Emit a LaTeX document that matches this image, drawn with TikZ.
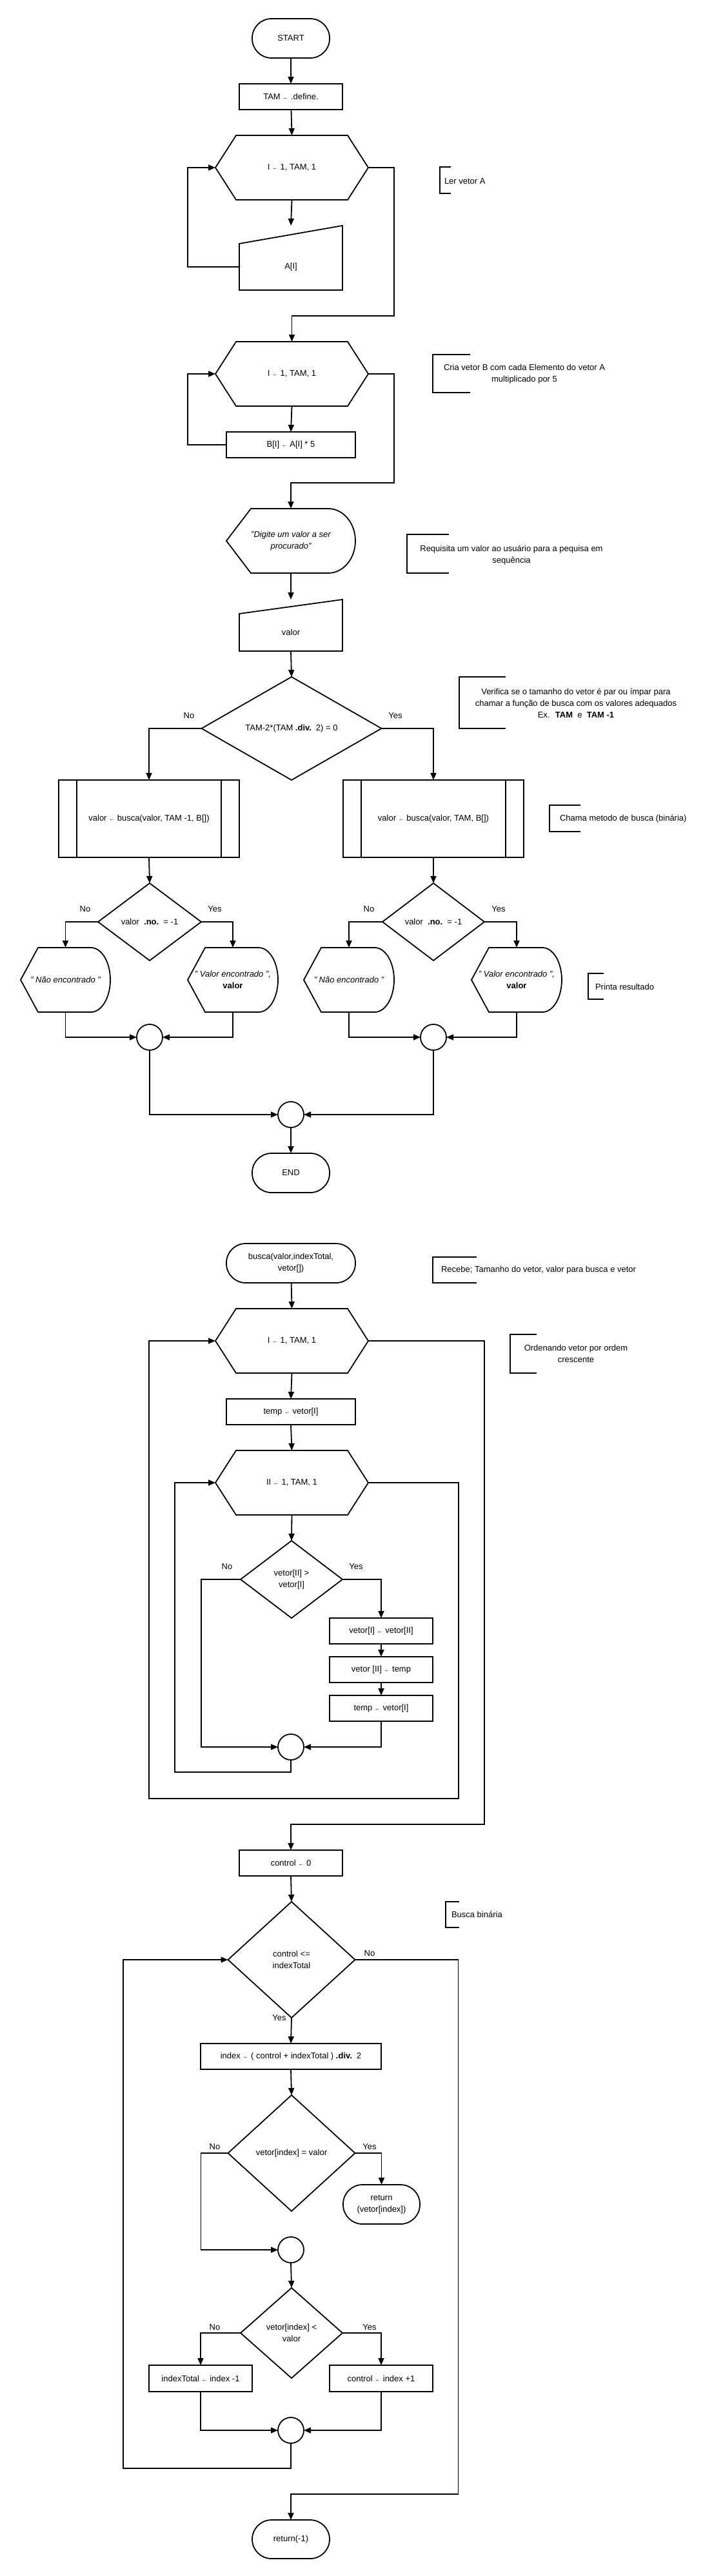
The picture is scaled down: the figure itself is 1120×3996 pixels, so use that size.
\documentclass[tikz,border=0pt]{standalone}
\usepackage{fontspec}
\setmainfont{Liberation Sans}
\usetikzlibrary{shapes.geometric,arrows.meta,calc}
\tikzset{
 every node/.style={font=\fontsize{13}{18}\selectfont, outer sep=0pt},
 shp/.style={line width=1.8pt, line join=miter},
 arr/.style={line width=1.8pt, -{Triangle[length=11pt,width=9pt]}},
 box/.style={rectangle, draw, line width=1.8pt, minimum width=160pt, minimum height=40pt, inner sep=2pt, align=center},
 term/.style={rectangle, draw, line width=1.8pt, rounded corners=30pt, minimum width=120pt, minimum height=61pt, inner sep=2pt, align=center},
 dec/.style={diamond, draw, line width=1.8pt, inner sep=0pt, align=center},
 conn/.style={circle, draw, line width=1.8pt, minimum size=40pt, inner sep=0pt},
 ghost/.style={rectangle, draw=none, inner sep=0pt, align=center},
 lab/.style={inner sep=0pt},
 note/.style={inner sep=0pt, align=center},
 ital/.style={font=\fontsize{13}{18}\selectfont\itshape},
}
\newcommand\mkhex[1]{\draw[shp] ([xshift=32pt]#1.north west) -- ([xshift=-32pt]#1.north east) -- (#1.east) -- ([xshift=-32pt]#1.south east) -- ([xshift=32pt]#1.south west) -- (#1.west) -- cycle;}
\newcommand\mkmanual[2]{\draw[shp] (#1.south west) -- (#1.north west) -- ([yshift=#2]#1.north east) -- (#1.south east) -- cycle;}
\newcommand\mkdisplay[3]{\draw[shp] (#1.west) -- ([xshift=#2]#1.north west) -- ([xshift=-#3]#1.north east) arc[start angle=90,end angle=-90,x radius=#3,y radius=50pt] -- ([xshift=#2]#1.south west) -- cycle;}
\newcommand\mksubr[1]{\draw[shp] ([xshift=28pt]#1.north west) -- ([xshift=28pt]#1.south west) ([xshift=-28pt]#1.north east) -- ([xshift=-28pt]#1.south east);}
\newcommand\la{{\fontsize{9}{9}\selectfont ←}}
\begin{document}
\begin{tikzpicture}[x=1pt,y=-1pt]
\fill[white] (0,0) rectangle (1120,3996);
\useasboundingbox (0,0) rectangle (1120,3996);

% ---------- main program ----------
\node[term] (start) at (451,59.5) {START};
\node[box] (tam) at (451,150) {TAM \la{} .define.};
\node[ghost, minimum width=237pt, minimum height=100pt] (hexA) at (452.5,260) {I \la{} 1, TAM, 1};
\mkhex{hexA}
\node[ghost, minimum width=160pt, minimum height=72pt] (inA) at (451,414) {A[I]};
\mkmanual{inA}{28pt}
\node[ghost, minimum width=237pt, minimum height=100pt] (hexB) at (452.5,580) {I \la{} 1, TAM, 1};
\mkhex{hexB}
\node[box, minimum width=200pt] (bset) at (451,690) {B[I] \la{} A[I] * 5};
\node[ghost, ital, minimum width=200pt, minimum height=100pt] (disp1) at (451,839) {"Digite um valor a ser\\procurado"};
\mkdisplay{disp1}{38pt}{42pt}
\node[ghost, minimum width=160pt, minimum height=58pt] (inV) at (451,981) {valor};
\mkmanual{inV}{22pt}
\node[dec, minimum width=279pt, minimum height=160pt] (dec1) at (452,1130) {TAM-2*(TAM \textbf{.div.}\, 2) = 0};
\node[box, minimum width=280pt, minimum height=120pt] (subL) at (231,1270) {valor \la{} busca(valor, TAM -1, B[])};
\mksubr{subL}
\node[box, minimum width=280pt, minimum height=120pt] (subR) at (672,1270) {valor \la{} busca(valor, TAM, B[])};
\mksubr{subR}
\node[dec, minimum width=160pt, minimum height=120pt] (decL) at (232,1430) {valor \ \textbf{.no.}\ \ = -1};
\node[dec, minimum width=158pt, minimum height=120pt] (decR) at (672,1430) {valor \ \textbf{.no.}\ \ = -1};
\node[ghost, ital, minimum width=139pt, minimum height=100pt] (dL1) at (101.5,1520) {" Não encontrado "};
\mkdisplay{dL1}{27pt}{30pt}
\node[ghost, minimum width=140pt, minimum height=100pt] (dL2) at (361,1520) {{\itshape " Valor encontrado ",}\\\textbf{valor}};
\mkdisplay{dL2}{27pt}{30pt}
\node[ghost, ital, minimum width=140pt, minimum height=100pt] (dR1) at (541,1520) {" Não encontrado "};
\mkdisplay{dR1}{27pt}{30pt}
\node[ghost, minimum width=140pt, minimum height=100pt] (dR2) at (801,1520) {{\itshape " Valor encontrado ",}\\\textbf{valor}};
\mkdisplay{dR2}{27pt}{30pt}
\node[conn] (cL) at (232,1609) {};
\node[conn] (cR) at (672,1609) {};
\node[conn] (cM) at (451,1729) {};
\node[term] (endn) at (451,1819.5) {END};

\node[lab] (n1) at (293,1110) {No};
\node[lab] (y1) at (613,1110) {Yes};
\node[lab] (n2) at (132,1410) {No};
\node[lab] (y2) at (333,1410) {Yes};
\node[lab] (n3) at (572,1410) {No};
\node[lab] (y3) at (773,1410) {Yes};

\draw[arr] (start) -- (tam);
\draw[arr] (tam) -- (hexA.north);
\draw[arr] (hexA.south) -- ([yshift=28pt]inA.north);
\draw[arr] (inA.west) -- ++(-80,0) |- (hexA.west);
\draw[arr] (hexA.east) -- ++(40,0) |- ([yshift=40pt]hexB.north) -- (hexB.north);
\draw[arr] (hexB.south) -- (bset.north);
\draw[arr] (bset.west) -- ++(-60,0) |- (hexB.west);
\draw[arr] (hexB.east) -- ++(40,0) |- ([yshift=40pt]disp1.north) -- (disp1.north);
\draw[arr] (disp1.south) -- ([yshift=22pt]inV.north);
\draw[arr] (inV.south) -- (dec1.north);
\draw[arr] (dec1.west) -| (subL.north);
\draw[arr] (dec1.east) -| (subR.north);
\draw[arr] (subL.south) -- (decL.north);
\draw[arr] (subR.south) -- (decR.north);
\draw[arr] (decL.west) -| (dL1.north);
\draw[arr] (decL.east) -| (dL2.north);
\draw[arr] (decR.west) -| (dR1.north);
\draw[arr] (decR.east) -| (dR2.north);
\draw[arr] (dL1.south) |- (cL.west);
\draw[arr] (dL2.south) |- (cL.east);
\draw[arr] (dR1.south) |- (cR.west);
\draw[arr] (dR2.south) |- (cR.east);
\draw[arr] (cL.south) |- (cM.west);
\draw[arr] (cR.south) |- (cM.east);
\draw[arr] (cM) -- (endn);

% ---------- function busca ----------
\node[term, minimum width=200pt] (busca) at (451,1959.5) {busca(valor,indexTotal,\\vetor[])};
\node[ghost, minimum width=237pt, minimum height=100pt] (hexC) at (452.5,2080) {I \la{} 1, TAM, 1};
\mkhex{hexC}
\node[box, minimum width=200pt] (tmp) at (451,2190) {temp \la{} vetor[I]};
\node[ghost, minimum width=237pt, minimum height=100pt] (hexD) at (452.5,2300) {II \la{} 1, TAM, 1};
\mkhex{hexD}
\node[dec, minimum width=158pt, minimum height=120pt] (dec2) at (452,2450) {vetor[II] >\\vetor[I]};
\node[box] (b1) at (591,2530) {vetor[I] \la{} vetor[II]};
\node[box] (b2) at (591,2590) {vetor [II] \la{} temp};
\node[box] (b3) at (591,2650) {temp \la{} vetor[I]};
\node[conn] (c2) at (451,2710) {};
\node[box] (ctrl) at (451,2890) {control \la{} 0};
\node[dec, minimum width=197pt, minimum height=180pt] (dec3) at (452,3040) {control <=\\indexTotal};
\node[box, minimum width=280pt] (idx) at (451,3190) {index \la{} ( control + indexTotal ) \textbf{.div.}\, 2};
\node[dec, minimum width=197pt, minimum height=180pt] (dec4) at (452,3340) {vetor[index] = valor};
\node[term, minimum width=119pt] (ret1) at (591.5,3419.5) {return\\(vetor[index])};
\node[conn] (c3) at (451,3490) {};
\node[dec, minimum width=158pt, minimum height=140pt] (dec5) at (452,3619) {vetor[index] <\\valor};
\node[box, minimum height=41pt] (bL) at (311,3689.5) {indexTotal \la{} index -1};
\node[box, minimum height=41pt] (bR) at (591,3689.5) {control \la{} index +1};
\node[conn] (c4) at (451,3770) {};
\node[term, minimum height=60pt] (ret2) at (451,3939) {return(-1)};

\node[lab] (n4) at (352,2430) {No};
\node[lab] (y4) at (552,2430) {Yes};
\node[lab] (n5) at (573,3030) {No};
\node[lab] (y5) at (433,3130) {Yes};
\node[lab] (n6) at (333,3330) {No};
\node[lab] (y6) at (573,3330) {Yes};
\node[lab] (n7) at (333,3610) {No};
\node[lab] (y7) at (573,3610) {Yes};

\draw[arr] (busca) -- (hexC.north);
\draw[arr] (hexC.south) -- (tmp.north);
\draw[arr] (tmp.south) -- (hexD.north);
\draw[arr] (hexD.south) -- (dec2.north);
\draw[arr] (dec2.west) -- ++(-61,0) |- (c2.west);
\draw[arr] (dec2.east) -| (b1.north);
\draw[arr] (b1) -- (b2);
\draw[arr] (b2) -- (b3);
\draw[arr] (b3.south) |- (c2.east);
\draw[arr] (c2.south) -- ++(0,19) -- ++(-180,0) |- (hexD.west);
\draw[arr] (hexD.east) -- ++(140,0) -- ++(0,490) -- ++(-480,0) |- (hexC.west);
\draw[arr] (hexC.east) -- ++(180,0) |- ([yshift=40pt]ctrl.north) -- (ctrl.north);
\draw[arr] (ctrl.south) -- (dec3.north);
\draw[arr] (dec3.south) -- (idx.north);
\draw[arr] (idx.south) -- (dec4.north);
\draw[arr] (dec4.east) -| (ret1.north);
\draw[arr] (dec4.west) -- ++(-42,0) |- (c3.west);
\draw[arr] (c3.south) -- (dec5.north);
\draw[arr] (dec5.west) -| (bL.north);
\draw[arr] (dec5.east) -| (bR.north);
\draw[arr] (bL.south) |- (c4.west);
\draw[arr] (bR.south) |- (c4.east);
\draw[arr] (c4.south) -- ++(0,39) -- ++(-260,0) |- (dec3.west);
\draw[arr] (dec3.east) -- ++(160,0) |- ([yshift=40pt]ret2.north) -- (ret2.north);

% ---------- comments ----------
\node[note, anchor=west] (k1) at (689,281) {Ler vetor A};
\draw[shp] (699,259) -- (682,259) -- (682,300) -- (699,300);
\node[note] (k2) at (813,580) {Cria vetor B com cada Elemento do vetor A\\multiplicado por 5};
\draw[shp] (729,550) -- (671,550) -- (671,609) -- (729,609);
\node[note] (k3) at (793,861) {Requisita um valor ao usuário para a pequisa em\\sequência};
\draw[shp] (696,829) -- (631,829) -- (631,889) -- (696,889);
\node[note] (k4) at (893,1091) {Verifica se o tamanho do vetor é par ou ímpar para\\chamar a função de busca com os valores adequados\\Ex. \ \textbf{TAM} \ e \ \textbf{TAM -1}};
\draw[shp] (784,1050) -- (712,1050) -- (712,1130) -- (784,1130);
\node[note, anchor=west] (k5) at (868,1270) {Chama metodo de busca (binária)};
\draw[shp] (900,1249) -- (852,1249) -- (852,1290) -- (900,1290);
\node[note, anchor=west] (k6) at (923,1531) {Printa resultado};
\draw[shp] (936,1510) -- (912,1510) -- (912,1550) -- (936,1550);
\node[note, anchor=west] (k7) at (684,1970) {Recebe; Tamanho do vetor, valor para busca e vetor};
\draw[shp] (739,1950) -- (671,1950) -- (671,1990) -- (739,1990);
\node[note] (k8) at (893,2100) {Ordenando vetor por ordem\\crescente};
\draw[shp] (832,2070) -- (791,2070) -- (791,2130) -- (832,2130);
\node[note, anchor=west] (k9) at (700,2970) {Busca binária};
\draw[shp] (712,2950) -- (691,2950) -- (691,2990) -- (712,2990);
\end{tikzpicture}
\end{document}
